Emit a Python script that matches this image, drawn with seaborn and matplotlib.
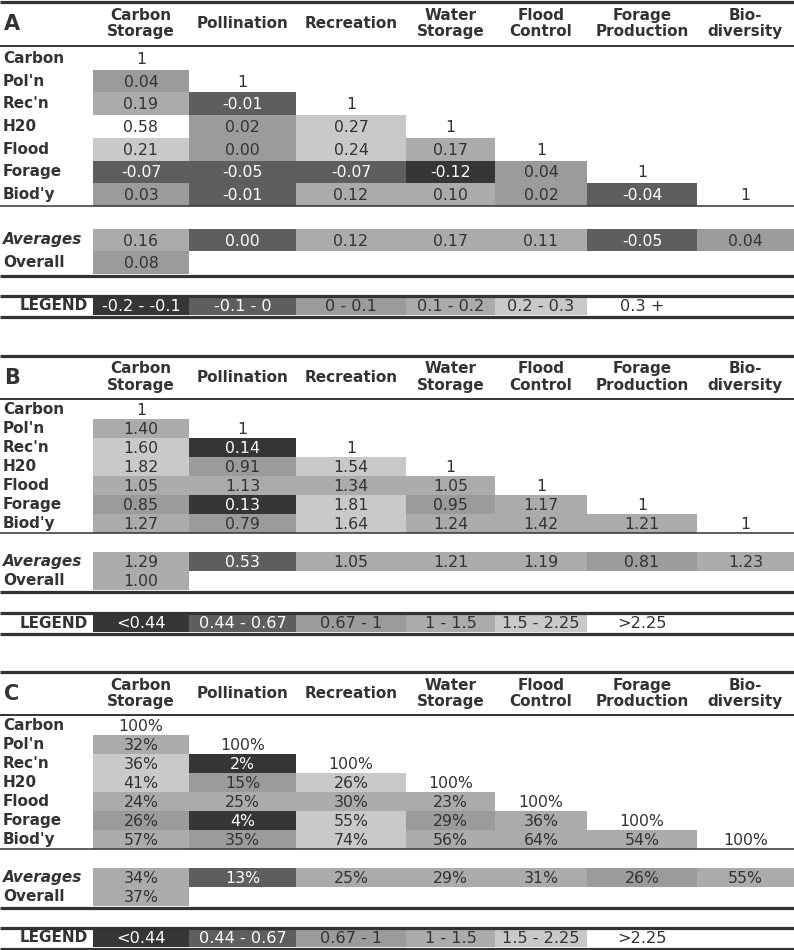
import numpy as np
import seaborn as sns
import matplotlib.pyplot as plt
from matplotlib.colors import ListedColormap

# labels
services = ["Carbon\nStorage", "Pollination", "Recreation", "Water\nStorage",
            "Flood\nControl", "Forage\nProduction", "Bio-\ndiversity"]
rows = ["Carbon", "Pol'n", "Rec'n", "H20", "Flood", "Forage", "Biod'y"]

# A - correlation between services (lower triangle incl. diagonal)
corr_a = [[1],
          [0.04, 1],
          [0.19, -0.01, 1],
          [0.58, 0.02, 0.27, 1],
          [0.21, 0.00, 0.24, 0.17, 1],
          [-0.07, -0.05, -0.07, -0.12, 0.04, 1],
          [0.03, -0.01, 0.12, 0.10, 0.02, -0.04, 1]]
# pollination average prints as 0.00 but is shaded as a (tiny) negative
avg_a = [0.16, -0.004, 0.12, 0.17, 0.11, -0.05, 0.04]
overall_a = 0.08
legend_a = ["-0.2 - -0.1", "-0.1 - 0", "0 - 0.1", "0.1 - 0.2", "0.2 - 0.3", "0.3 +"]
cuts_a = [-0.1, 0, 0.1, 0.2, 0.3]

# B - ratios
ratio_b = [[1],
           [1.40, 1],
           [1.60, 0.14, 1],
           [1.82, 0.91, 1.54, 1],
           [1.05, 1.13, 1.34, 1.05, 1],
           [0.85, 0.13, 1.81, 0.95, 1.17, 1],
           [1.27, 0.79, 1.64, 1.24, 1.42, 1.21, 1]]
avg_b = [1.29, 0.53, 1.05, 1.21, 1.19, 0.81, 1.23]
overall_b = 1.00
legend_b = ["<0.44", "0.44 - 0.67", "0.67 - 1", "1 - 1.5", "1.5 - 2.25", ">2.25"]
cuts_b = [0.44, 0.67, 1, 1.5, 2.25]

# C - percentages (shaded using the B ratios)
pct_c = [[100],
         [32, 100],
         [36, 2, 100],
         [41, 15, 26, 100],
         [24, 25, 30, 23, 100],
         [26, 4, 55, 29, 36, 100],
         [57, 35, 74, 56, 64, 54, 100]]
avg_c = [34, 13, 25, 29, 31, 26, 55]
overall_c = 37

shades = ["#363636", "#5e5e5e", "#9b9b9b", "#ababab", "#c9c9c9", "#ffffff"]
cmap = ListedColormap(shades)
ink = "#333333"

W, H = 794, 950
x0 = 93
col_w = [96, 107, 110, 89, 92, 110, 97]
col_mid = np.cumsum([0] + col_w[:-1]) + np.array(col_w) / 2


def make_grid(tri, avg, overall):
    g = np.full((10, 7), np.nan)
    for i, r in enumerate(tri):
        g[i, :len(r)] = r
    g[8] = avg
    g[9, 0] = overall
    return g


def levels(g, cuts):
    lev = np.digitize(g, cuts).astype(float)
    lev[np.isnan(g)] = np.nan
    for i in range(7):
        lev[i, i] = np.nan   # diagonal stays white
    return lev


def fmt2(v):
    return f"{v:.2f}".replace("-0.00", "0.00")


def add_ax(fig, top, bottom):
    ax = fig.add_axes([x0 / W, 1 - bottom / H, (W - x0) / W, (bottom - top) / H])
    ax.patch.set_alpha(0)
    return ax


sns.set_style("white")
plt.rcParams["font.family"] = ["DejaVu Sans"]

fig = plt.figure(figsize=(W / 100, H / 100), dpi=100)

panels = [
    dict(letter="A", text=make_grid(corr_a, avg_a, overall_a),
         color=make_grid(corr_a, avg_a, overall_a), cuts=cuts_a,
         fmt=fmt2, diag="1", legend=legend_a,
         top=1.5, head=45.5, row0=47, rh=22.7, leg=(297, 315)),
    dict(letter="B", text=make_grid(ratio_b, avg_b, overall_b),
         color=make_grid(ratio_b, avg_b, overall_b), cuts=cuts_b,
         fmt=fmt2, diag="1", legend=legend_b,
         top=355.5, head=399, row0=400, rh=19.0, leg=(614, 632)),
    dict(letter="C", text=make_grid(pct_c, avg_c, overall_c),
         color=make_grid(ratio_b, avg_b, overall_b), cuts=cuts_b,
         fmt=lambda v: f"{v:.0f}%", diag="100%", legend=legend_b,
         top=672, head=715, row0=716, rh=19.0, leg=(929, 947)),
]

for p in panels:
    lev = levels(p["color"], p["cuts"])
    ax = add_ax(fig, p["row0"], p["row0"] + 10 * p["rh"])
    sns.heatmap(np.repeat(lev, col_w, axis=1), cmap=cmap, vmin=-0.5, vmax=5.5,
                cbar=False, xticklabels=False, yticklabels=False, ax=ax)
    vals = p["text"]
    for i in range(10):
        for j in range(7):
            v = vals[i, j]
            if np.isnan(v):
                continue
            if i < 7 and i == j:
                label, c = p["diag"], ink
            else:
                label = p["fmt"](v)
                c = "white" if lev[i, j] <= 1 else ink
            ax.text(col_mid[j], i + 0.55, label, ha="center", va="center",
                    fontsize=11.3, color=c)

    # legend strip
    lax = add_ax(fig, p["leg"][0], p["leg"][1])
    leg_lev = np.array([[0, 1, 2, 3, 4, 5, np.nan]])
    sns.heatmap(np.repeat(leg_lev, col_w, axis=1), cmap=cmap, vmin=-0.5, vmax=5.5,
                cbar=False, xticklabels=False, yticklabels=False, ax=lax)
    for j, lab in enumerate(p["legend"]):
        lax.text(col_mid[j], 0.55, lab, ha="center", va="center", fontsize=11.6,
                 color="white" if j <= 1 else ink)

# overlay for rules, headers and row labels (pixel coordinates)
ov = fig.add_axes([0, 0, 1, 1], facecolor="none")
ov.set_xlim(0, W)
ov.set_ylim(H, 0)
ov.axis("off")

for p in panels:
    rh = p["rh"]
    r0 = p["row0"]
    hmid = (p["top"] + p["head"]) / 2
    ov.hlines(p["top"], 0, W, color=ink, lw=2.3)
    ov.hlines(p["head"], 0, W, color=ink, lw=1.4)
    ov.hlines(r0 + 7 * rh, 0, W, color=ink, lw=1.1)
    ov.hlines(r0 + 10 * rh + 2, 0, W, color=ink, lw=2.3)
    ov.hlines(p["leg"][0] - 1.5, 0, W, color=ink, lw=2.3)
    ov.hlines(p["leg"][1] + 1.5, 0, W, color=ink, lw=2.3)

    ov.text(4, hmid + 1, p["letter"], fontsize=15, fontweight="bold",
            color=ink, ha="left", va="center")
    for j, s in enumerate(services):
        ov.text(x0 + col_mid[j], hmid, s, ha="center", va="center",
                fontsize=11, fontweight="bold", color=ink, linespacing=1.15)
    for i, r in enumerate(rows):
        ov.text(3, r0 + (i + 0.5) * rh, r, ha="left", va="center",
                fontsize=11, fontweight="bold", color=ink)
    ov.text(3, r0 + 8.5 * rh, "Averages", ha="left", va="center", fontsize=11,
            fontweight="bold", fontstyle="italic", color=ink)
    ov.text(3, r0 + 9.5 * rh, "Overall", ha="left", va="center", fontsize=11,
            fontweight="bold", color=ink)
    ov.text(88, sum(p["leg"]) / 2, "LEGEND", ha="right", va="center",
            fontsize=11, fontweight="bold", color=ink)

plt.savefig("out.png", dpi=100)
